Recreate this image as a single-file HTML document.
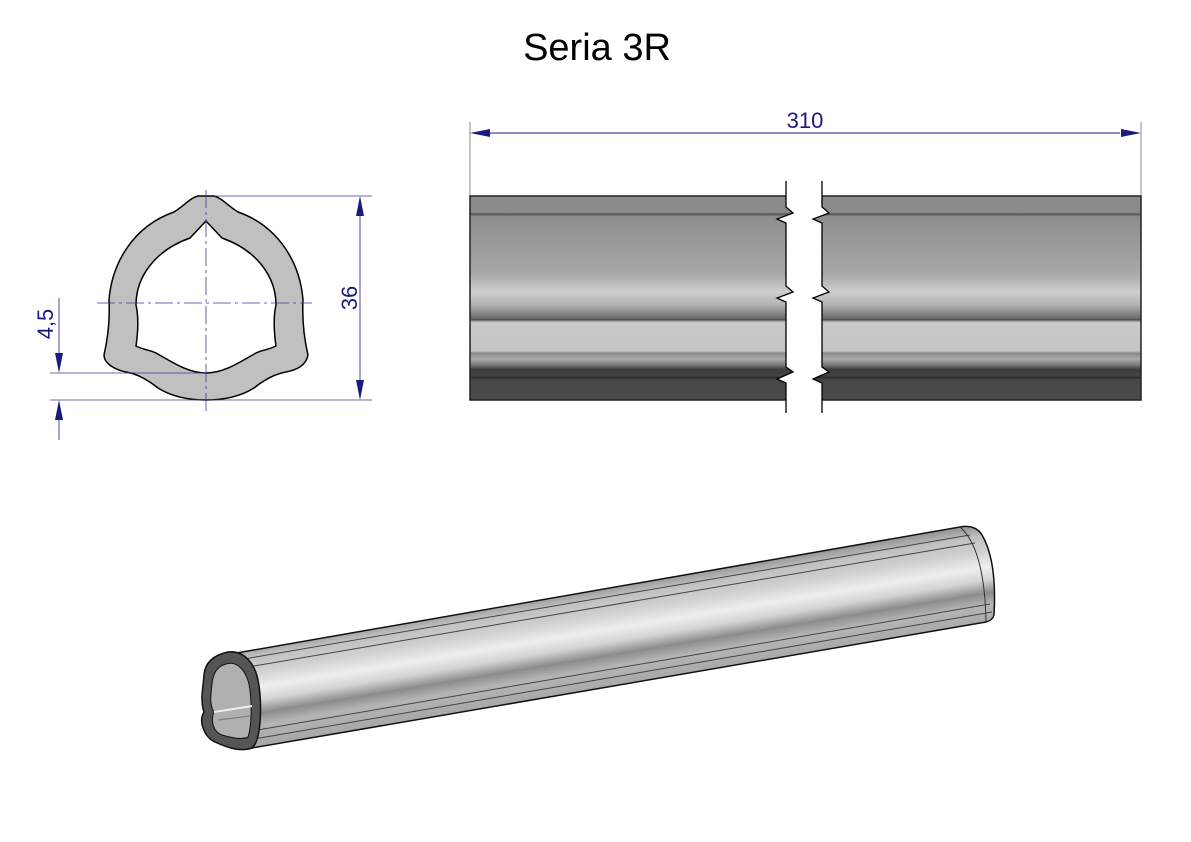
<!DOCTYPE html>
<html><head><meta charset="utf-8"><style>
html,body{margin:0;padding:0;background:#fff;}
svg{display:block;}
text{font-family:"Liberation Sans",sans-serif;}
</style></head><body>
<svg width="1191" height="842" viewBox="0 0 1191 842" xmlns="http://www.w3.org/2000/svg">
<defs>
<linearGradient id="side" x1="0" y1="196" x2="0" y2="400" gradientUnits="userSpaceOnUse">
<stop offset="0" stop-color="#8c8c8c"/>
<stop offset="0.08" stop-color="#8a8a8a"/>
<stop offset="0.09" stop-color="#555"/>
<stop offset="0.1" stop-color="#8e8e8e"/>
<stop offset="0.38" stop-color="#a8a8a8"/>
<stop offset="0.47" stop-color="#cfcfcf"/>
<stop offset="0.53" stop-color="#b4b4b4"/>
<stop offset="0.6" stop-color="#6c6c6c"/>
<stop offset="0.605" stop-color="#4a4a4a"/>
<stop offset="0.62" stop-color="#cacaca"/>
<stop offset="0.76" stop-color="#c4c4c4"/>
<stop offset="0.77" stop-color="#8a8a8a"/>
<stop offset="0.8" stop-color="#aaa"/>
<stop offset="0.83" stop-color="#777"/>
<stop offset="0.85" stop-color="#3c3c3c"/>
<stop offset="0.88" stop-color="#444"/>
<stop offset="0.89" stop-color="#2a2a2a"/>
<stop offset="0.9" stop-color="#484848"/>
<stop offset="1" stop-color="#4a4a4a"/>
</linearGradient>
<linearGradient id="tube" x1="600" y1="589" x2="616" y2="686" gradientUnits="userSpaceOnUse">
<stop offset="0" stop-color="#9a9a9a"/>
<stop offset="0.1" stop-color="#c0c0c0"/>
<stop offset="0.25" stop-color="#cfcfcf"/>
<stop offset="0.42" stop-color="#eeeeee"/>
<stop offset="0.55" stop-color="#d4d4d4"/>
<stop offset="0.68" stop-color="#8c8c8c"/>
<stop offset="0.8" stop-color="#b5b5b5"/>
<stop offset="1" stop-color="#a8a8a8"/>
</linearGradient>
</defs>

<text x="597" y="60" font-size="38" text-anchor="middle" fill="#000">Seria 3R</text>

<g stroke="#1a1a80" stroke-width="1" fill="none">
<line x1="470" y1="122" x2="470" y2="196" stroke="#888"/>
<line x1="1141" y1="122" x2="1141" y2="196" stroke="#888"/>
<line x1="490" y1="133" x2="1120" y2="133"/>
</g>
<path d="M470,133 L490,129 L490,137 Z M1141,133 L1121,129 L1121,137 Z" fill="#1a1a80"/>
<text x="805" y="128" font-size="22" text-anchor="middle" fill="#1a1a80">310</text>

<rect x="470" y="196" width="671" height="204" fill="url(#side)" stroke="#222" stroke-width="1.5"/>
<path d="M786,186 L786,207 L793,213 L777,219 L786,223 L786,286 L793,292 L777,298 L786,302 L786,367 L793,372 L777,379 L786,383 L786,412 L822,412 L822,383 L813,379 L829,372 L822,367 L822,302 L813,298 L829,292 L822,286 L822,223 L813,219 L829,213 L822,207 L822,186 Z" fill="#fff"/>
<path d="M786,181 L786,207 L793,213 L777,219 L786,223 L786,286 L793,292 L777,298 L786,302 L786,367 L793,372 L777,379 L786,383 L786,413" fill="none" stroke="#000" stroke-width="1.3"/>
<path d="M822,181 L822,207 L829,213 L813,219 L822,223 L822,286 L829,292 L813,298 L822,302 L822,367 L829,372 L813,379 L822,383 L822,413" fill="none" stroke="#000" stroke-width="1.3"/>

<path d="M198,196 L214,196 C222,198 228,206 238,212 C278,226 300,262 303,300 C302,320 304,338 308,355 C306,366 296,370 286,372 C274,374 264,380 254,388 C238,398 220,400 206,400 C192,400 174,398 158,388 C148,380 138,374 126,372 C116,370 104,364 104,355 C108,338 110,320 109,300 C112,262 134,226 174,212 C184,206 190,198 198,196 Z" fill="#c0c0c0" stroke="#000" stroke-width="1.5"/>
<path d="M206,221 L222,238 C256,250 276,276 276,305 C273,318 274,332 276,346 C268,350 262,350 256,353 C240,362 224,373 206,373 C188,373 172,362 156,353 C150,350 144,350 136,346 C138,332 139,318 136,305 C136,276 156,250 190,238 Z" fill="#fff" stroke="#000" stroke-width="1.5"/>
<g stroke="#3a3a90" stroke-width="0.8" stroke-dasharray="18,4,3,4" fill="none">
<line x1="97" y1="303" x2="312" y2="303"/>
<line x1="206" y1="190" x2="206" y2="412"/>
</g>
<g stroke="#3a3a90" stroke-width="0.8" fill="none">
<line x1="214" y1="196" x2="372" y2="196"/>
<line x1="206" y1="400" x2="372" y2="400"/>
<line x1="360" y1="214" x2="360" y2="382" stroke="#1a1a80"/>
<line x1="50" y1="373" x2="206" y2="373"/>
<line x1="50" y1="400" x2="206" y2="400"/>
<line x1="59" y1="298" x2="59" y2="356" stroke="#1a1a80"/>
<line x1="59" y1="418" x2="59" y2="440" stroke="#1a1a80"/>
</g>
<path d="M360,196 L356,216 L364,216 Z M360,400 L356,380 L364,380 Z M59,373 L55,353 L63,353 Z M59,400 L55,420 L63,420 Z" fill="#1a1a80"/>
<text transform="translate(357,298) rotate(-90)" font-size="22" text-anchor="middle" fill="#1a1a80">36</text>
<text transform="translate(53,324) rotate(-90)" font-size="22" text-anchor="middle" fill="#1a1a80">4,5</text>

<path d="M225,655 L960,527 C970,525 978,528 982,535 C992,552 996,580 994,615 C993,619 990,621 986,622 L252,748 Z" fill="url(#tube)" stroke="#111" stroke-width="1.5"/>
<g stroke="#444" stroke-width="1" fill="none">
<line x1="238" y1="660" x2="970" y2="535"/>
<line x1="242" y1="668" x2="975" y2="543"/>
<line x1="246" y1="732" x2="990" y2="604"/>
<line x1="248" y1="740" x2="992" y2="612"/>
</g>
<path d="M960,527 C975,540 985,570 986,622" fill="none" stroke="#333" stroke-width="1"/>
<path d="M228,652 C214,655 205,662 204,675 C203,688 200,700 204,712 C198,722 205,738 215,742 C228,748 240,752 252,748 C262,740 262,700 258,680 C255,665 245,650 228,652 Z" fill="#555" stroke="#111" stroke-width="1.5"/>
<path d="M226,664 C218,666 213,672 212,684 C211,694 209,705 214,712 C210,722 214,732 222,735 C232,738 242,740 248,737 C252,725 252,700 249,684 C246,672 238,660 226,664 Z" fill="#b0b0b0" stroke="#111" stroke-width="1"/>
<path d="M214,712 L252,706" stroke="#eee" stroke-width="2"/>
<path d="M218,720 L250,716" stroke="#777" stroke-width="1"/>
</svg>
</body></html>
